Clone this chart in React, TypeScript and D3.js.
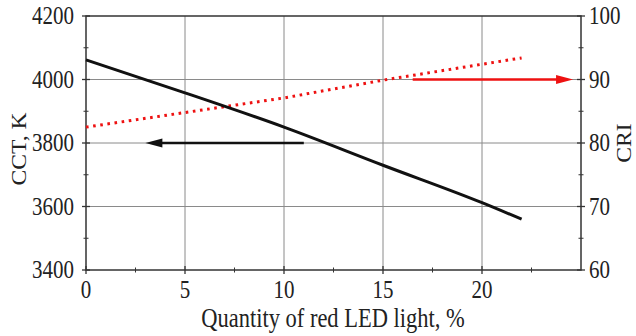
import React from "react";
import * as d3 from "d3";

const redPercent = [0, 5, 10, 15, 20, 22];
const cctValues = [4062, 3958, 3850, 3730, 3612, 3560];
const criValues = [82.5, 84.8, 87.1, 89.9, 92.4, 93.4];
const xTicks = [0, 5, 10, 15, 20];
const cctTicks = [3400, 3600, 3800, 4000, 4200];
const criTicks = [60, 70, 80, 90, 100];
const xMinor = [2.5, 7.5, 12.5, 17.5, 22.5];
const cctMinor = [3500, 3700, 3900, 4100];
const criMinor = [65, 75, 85, 95];
// annotation arrows: [fromX, toX, level]
const cctArrow = [11, 3, 3800];
const criArrow = [16.5, 24.6, 90];

const W = 636, H = 336;
const L = 86, R = 581, T = 16, B = 270;
const SY = 1.18;

function STxt(props: { x: number; y: number; anchor: string; size: number; children: any }) {
  const { x, y, anchor, size, children } = props;
  return (
    <text transform={`translate(${x},${y}) scale(1,${SY})`} textAnchor={anchor} fontSize={size} fill="#222">{children}</text>
  );
}

export default function App() {
  const x = d3.scaleLinear().domain([0, 25]).range([L, R]);
  const yL = d3.scaleLinear().domain([3400, 4200]).range([B, T]);
  const yR = d3.scaleLinear().domain([60, 100]).range([B, T]);
  const font = "'Liberation Serif', 'Times New Roman', serif";
  const cctLine = d3.line<number>().x((_, i) => x(redPercent[i])).y((d) => yL(d)).curve(d3.curveMonotoneX)(cctValues) || "";
  const criLine = d3.line<number>().x((_, i) => x(redPercent[i])).y((d) => yR(d))(criValues) || "";
  const axisColor = "#333";
  const gridColor = "#8a8a8a";

  const ba = { x1: x(cctArrow[0]), x2: x(cctArrow[1]), y: yL(cctArrow[2]) };
  const ra = { x1: x(criArrow[0]), x2: x(criArrow[1]), y: yR(criArrow[2]) };
  const headLen = 17, headHalf = 4.5;
  const fs = 21;

  return (
    <svg width={W} height={H} style={{ position: "absolute", left: 0, top: 0, background: "#fff" }} fontFamily={font}>
      {xTicks.slice(1).map((t) => (
        <line key={"gx" + t} x1={x(t)} x2={x(t)} y1={T} y2={B} stroke={gridColor} strokeWidth={1} />
      ))}
      {cctTicks.slice(1, -1).map((t) => (
        <line key={"gy" + t} x1={L} x2={R} y1={yL(t)} y2={yL(t)} stroke={gridColor} strokeWidth={1} />
      ))}
      <rect x={L} y={T} width={R - L} height={B - T} fill="none" stroke={axisColor} strokeWidth={1.5} />
      {xTicks.map((t) => (
        <line key={"xt" + t} x1={x(t)} x2={x(t)} y1={B - 4} y2={B + 4} stroke={axisColor} strokeWidth={1.3} />
      ))}
      {xMinor.map((t) => (
        <line key={"xm" + t} x1={x(t)} x2={x(t)} y1={B - 2.5} y2={B + 2.5} stroke={axisColor} strokeWidth={1} />
      ))}
      {cctTicks.map((t) => (
        <line key={"lt" + t} x1={L - 4} x2={L + 4} y1={yL(t)} y2={yL(t)} stroke={axisColor} strokeWidth={1.3} />
      ))}
      {cctMinor.map((t) => (
        <line key={"lm" + t} x1={L - 2.5} x2={L + 2.5} y1={yL(t)} y2={yL(t)} stroke={axisColor} strokeWidth={1} />
      ))}
      {criTicks.map((t) => (
        <line key={"rt" + t} x1={R - 4} x2={R + 4} y1={yR(t)} y2={yR(t)} stroke={axisColor} strokeWidth={1.3} />
      ))}
      {criMinor.map((t) => (
        <line key={"rm" + t} x1={R - 2.5} x2={R + 2.5} y1={yR(t)} y2={yR(t)} stroke={axisColor} strokeWidth={1} />
      ))}
      {xTicks.map((t) => (
        <STxt key={"xl" + t} x={x(t)} y={B + 28} anchor="middle" size={fs}>{t}</STxt>
      ))}
      {cctTicks.map((t) => (
        <STxt key={"ll" + t} x={L - 12} y={yL(t) + 8} anchor="end" size={fs}>{t}</STxt>
      ))}
      {criTicks.map((t) => (
        <STxt key={"rl" + t} x={R + 8} y={yR(t) + 8} anchor="start" size={fs}>{t}</STxt>
      ))}
      <STxt x={333} y={327} anchor="middle" size={22.5}>Quantity of red LED light, %</STxt>
      <text transform={`translate(26,149) rotate(-90) scale(${SY},1)`} textAnchor="middle" fontSize={20} fill="#222">CCT, K</text>
      <text transform={`translate(631,143) rotate(-90) scale(${SY},1)`} textAnchor="middle" fontSize={20} fill="#222">CRI</text>
      <path d={criLine} fill="none" stroke="#ee1111" strokeWidth={3} strokeDasharray="2.6 4.6" />
      <path d={cctLine} fill="none" stroke="#111" strokeWidth={3} />
      <line x1={ba.x1} x2={ba.x2 + headLen - 1} y1={ba.y} y2={ba.y} stroke="#111" strokeWidth={2.5} />
      <polygon points={`${ba.x2},${ba.y} ${ba.x2 + headLen},${ba.y - headHalf} ${ba.x2 + headLen},${ba.y + headHalf}`} fill="#111" />
      <line x1={ra.x1} x2={ra.x2 - headLen + 1} y1={ra.y} y2={ra.y} stroke="#ee1111" strokeWidth={2.5} />
      <polygon points={`${ra.x2},${ra.y} ${ra.x2 - headLen},${ra.y - headHalf} ${ra.x2 - headLen},${ra.y + headHalf}`} fill="#ee1111" />
    </svg>
  );
}
